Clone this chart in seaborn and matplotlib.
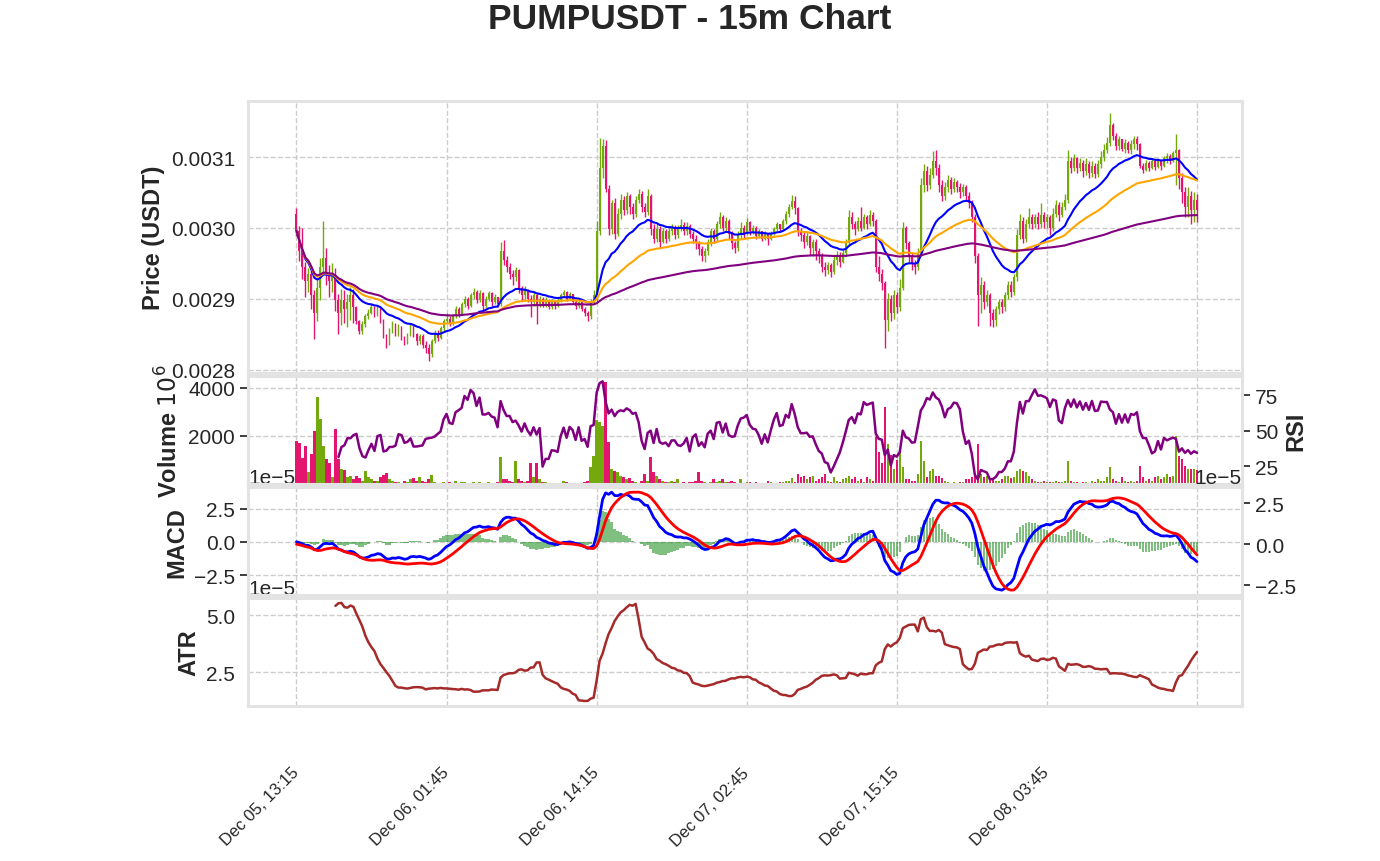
"""
PUMPUSDT 15m candlestick chart with volume/RSI, MACD and ATR panels
"""

import numpy as np
import pandas as pd
import matplotlib
matplotlib.use("Agg")
import matplotlib.pyplot as plt
import seaborn as sns

# ---- data (prices in 1e-6 USDT, volume in millions) ----
start_time = "2025-12-05 13:15"
first_open = 3020

close_u = [
    2996, 2968, 2945, 2925, 2935, 2905, 2880, 2915, 2945, 2958,
    2935, 2925, 2935, 2898, 2880, 2898, 2885, 2895, 2905, 2888,
    2868, 2855, 2865, 2875, 2880, 2888, 2878, 2885, 2870, 2848,
    2838, 2855, 2865, 2852, 2860, 2845, 2838, 2850, 2862, 2850,
    2840, 2848, 2835, 2830, 2822, 2840, 2852, 2845, 2858, 2868,
    2872, 2865, 2875, 2885, 2878, 2892, 2900, 2890, 2905, 2910,
    2898, 2908, 2890, 2900, 2908, 2895, 2902, 2892, 2968, 2955,
    2945, 2935, 2930, 2940, 2915, 2905, 2912, 2900, 2895, 2905,
    2890, 2900, 2892, 2898, 2888, 2896, 2890, 2898, 2905, 2910,
    2900, 2906, 2896, 2890, 2895, 2885, 2880, 2875, 2895, 2905,
    2995, 3085, 3115, 3055, 2998, 3035, 2992, 3020, 3040, 3025,
    3045, 3030, 3020, 3040, 3048, 3030, 3022, 3045, 2998, 2985,
    2998, 2980, 2995, 2985, 2995, 3000, 2990, 2998, 3004, 2995,
    3002, 2992, 2985, 2978, 2970, 2960, 2968, 2980, 2995, 2985,
    3005, 3015, 3000, 3010, 2992, 2978, 2972, 2990, 3000, 2992,
    3008, 2995, 3000, 2988, 2995, 2985, 2992, 2985, 2992, 2998,
    3005, 2998, 3010, 3020, 3030, 3038, 3028, 2995, 2990, 2980,
    2988, 2972, 2980, 2968, 2960, 2945, 2940, 2948, 2938, 2955,
    2962, 2952, 2965, 2978, 3015, 3005, 2998, 3010, 3000, 3015,
    3005, 3018, 3010, 2945, 2935, 2922, 2870, 2900, 2880, 2905,
    2888, 2915, 3000, 2978, 2960, 2950, 2945, 2965, 3060, 3080,
    3060, 3075, 3095, 3085, 3060, 3045, 3058, 3068, 3055, 3065,
    3058, 3050, 3058, 3045, 3035, 3015, 2960, 2905, 2920, 2895,
    2905, 2880, 2870, 2885, 2895, 2888, 2905, 2920, 2910, 2930,
    2990, 3010, 2985, 3005, 3015, 3005, 3015, 3005, 3018, 3008,
    3015, 3000, 3020, 3032, 3018, 3030, 3040, 3095, 3085, 3098,
    3085, 3092, 3080, 3090, 3078, 3088, 3076, 3090, 3100, 3110,
    3120, 3145, 3130, 3115, 3125, 3112, 3120, 3110, 3118, 3125,
    3118, 3088, 3082, 3092, 3085, 3095, 3086, 3094, 3088, 3098,
    3102, 3095, 3105, 3110, 3070, 3050, 3030, 3045, 3025, 3040,
    3025,
]

high_u = [
    3028, 3002, 3000, 2952, 2944, 2942, 2912, 2927, 2957, 3010,
    2972, 2947, 2950, 2944, 2906, 2914, 2912, 2906, 2917, 2914,
    2890, 2870, 2868, 2878, 2885, 2892, 2890, 2890, 2888, 2872,
    2850, 2858, 2868, 2866, 2864, 2862, 2848, 2852, 2865, 2864,
    2852, 2850, 2850, 2840, 2836, 2843, 2856, 2856, 2862, 2872,
    2880, 2876, 2878, 2890, 2888, 2896, 2904, 2903, 2908, 2915,
    2912, 2912, 2910, 2904, 2911, 2909, 2906, 2903, 2980, 2983,
    2960, 2950, 2940, 2945, 2942, 2918, 2918, 2914, 2905, 2910,
    2908, 2904, 2902, 2902, 2899, 2899, 2897, 2901, 2908, 2913,
    2911, 2909, 2907, 2898, 2898, 2896, 2888, 2882, 2900, 2912,
    3010, 3127, 3125, 3124, 3060, 3040, 3042, 3028, 3048, 3045,
    3050, 3048, 3035, 3045, 3055, 3052, 3035, 3055, 3048, 3005,
    3005, 3002, 3000, 2998, 3002, 3006, 3004, 3004, 3012, 3008,
    3008, 3005, 2996, 2990, 2982, 2975, 2972, 2985, 3000, 2998,
    3010, 3022, 3018, 3015, 3012, 2995, 2982, 2995, 3008, 3004,
    3014, 3010, 3004, 3002, 2998, 2996, 2995, 2993, 2995, 3001,
    3008, 3006, 3013, 3024, 3034, 3046, 3045, 3030, 3000, 2994,
    2994, 2990, 2985, 2984, 2972, 2964, 2952, 2952, 2950, 2960,
    2968, 2966, 2970, 2984, 3025, 3022, 3010, 3015, 3030, 3020,
    3018, 3025, 3022, 3012, 2960, 2942, 2925, 2908, 2905, 2912,
    2910, 2928, 3008, 3002, 2982, 2965, 2955, 2972, 3070, 3090,
    3088, 3085, 3108, 3110, 3090, 3068, 3065, 3075, 3072, 3070,
    3068, 3064, 3062, 3060, 3050, 3040, 3020, 2965, 2930, 2925,
    2912, 2908, 2885, 2890, 2900, 2900, 2910, 2925, 2925, 2935,
    2998, 3020, 3015, 3012, 3028, 3020, 3020, 3022, 3035, 3022,
    3020, 3018, 3028, 3040, 3036, 3036, 3048, 3110, 3100, 3104,
    3100, 3098, 3096, 3098, 3094, 3095, 3092, 3096, 3108, 3118,
    3128, 3162, 3148, 3134, 3130, 3126, 3126, 3122, 3124, 3130,
    3130, 3120, 3092, 3096, 3094, 3098, 3097, 3098, 3096, 3102,
    3106, 3104, 3108, 3132, 3112, 3078, 3058, 3058, 3052, 3050,
    3048,
]

low_u = [
    2988, 2953, 2928, 2903, 2910, 2886, 2843, 2868, 2898, 2936,
    2920, 2903, 2910, 2883, 2850, 2863, 2866, 2860, 2870, 2866,
    2864, 2850, 2850, 2860, 2872, 2878, 2874, 2875, 2866, 2845,
    2830, 2835, 2852, 2848, 2848, 2842, 2834, 2836, 2848, 2846,
    2835, 2836, 2830, 2824, 2812, 2818, 2838, 2840, 2843, 2855,
    2866, 2862, 2863, 2873, 2874, 2877, 2888, 2886, 2888, 2900,
    2894, 2895, 2884, 2887, 2897, 2890, 2892, 2888, 2890, 2948,
    2938, 2928, 2920, 2925, 2908, 2898, 2900, 2895, 2874, 2890,
    2864, 2888, 2888, 2889, 2885, 2886, 2886, 2888, 2896, 2903,
    2897, 2898, 2893, 2886, 2887, 2882, 2876, 2869, 2872, 2893,
    2895, 2990, 3070, 3050, 2990, 2992, 2985, 2988, 3012, 3018,
    3020, 3020, 3012, 3015, 3035, 3022, 3015, 3018, 2990, 2978,
    2980, 2972, 2978, 2978, 2982, 2990, 2985, 2986, 2995, 2990,
    2990, 2986, 2978, 2970, 2962, 2953, 2952, 2962, 2975, 2978,
    2982, 3000, 2995, 2995, 2985, 2970, 2965, 2968, 2985, 2985,
    2990, 2990, 2992, 2985, 2986, 2982, 2983, 2976, 2983, 2990,
    2996, 2994, 2996, 3006, 3016, 3026, 3020, 2988, 2982, 2972,
    2976, 2962, 2960, 2955, 2950, 2938, 2932, 2935, 2930, 2935,
    2948, 2945, 2950, 2960, 2975, 2998, 2990, 2995, 2995, 2998,
    2998, 3002, 3002, 2938, 2925, 2912, 2830, 2855, 2868, 2872,
    2880, 2882, 2912, 2970, 2952, 2940, 2935, 2940, 2960, 3050,
    3052, 3055, 3070, 3075, 3050, 3038, 3040, 3050, 3048, 3050,
    3050, 3042, 3045, 3038, 3028, 3008, 2950, 2862, 2880, 2885,
    2890, 2862, 2860, 2862, 2878, 2880, 2882, 2900, 2902, 2905,
    2925, 2985, 2978, 2980, 3000, 2998, 3000, 2998, 3000, 3000,
    3000, 2990, 2995, 3015, 3010, 3015, 3025, 3035, 3078, 3080,
    3078, 3080, 3072, 3075, 3070, 3072, 3070, 3072, 3085, 3095,
    3105, 3115, 3124, 3110, 3110, 3108, 3106, 3106, 3104, 3112,
    3110, 3084, 3078, 3080, 3080, 3083, 3082, 3084, 3082, 3086,
    3092, 3090, 3093, 3060, 3055, 3035, 3015, 3015, 3005, 3008,
    3008,
]

volume_m = [
    1800, 1700, 1100, 1600, 500, 1250, 2200, 3600, 2700, 1600,
    1050, 900, 300, 2300, 1050, 650, 600, 300, 350, 200,
    350, 250, 150, 550, 300, 200, 150, 150, 300, 400,
    450, 200, 150, 100, 80, 60, 150, 100, 200, 250,
    150, 300, 150, 100, 200, 380, 100, 60, 50, 80,
    60, 80, 50, 120, 60, 100, 90, 40, 60, 110,
    70, 90, 60, 50, 80, 40, 60, 100, 1110, 210,
    200, 150, 100, 970, 200, 120, 80, 150, 900, 280,
    900, 200, 100, 80, 60, 50, 70, 40, 60, 150,
    80, 50, 60, 40, 50, 70, 90, 120, 700, 1180,
    2640, 2570, 2400, 4250, 1740, 625, 550, 490, 350, 280,
    200, 250, 150, 100, 70, 150, 420, 150, 1110, 490,
    350, 200, 140, 100, 80, 150, 100, 200, 70, 100,
    60, 100, 80, 120, 490, 140, 80, 60, 100, 210,
    100, 150, 200, 100, 80, 150, 100, 70, 210, 60,
    80, 100, 60, 80, 50, 70, 60, 140, 80, 60,
    50, 80, 100, 140, 150, 270, 100, 420, 280, 350,
    200, 300, 350, 150, 200, 280, 420, 150, 100, 280,
    150, 100, 200, 250, 350, 200, 280, 150, 200, 100,
    280, 200, 150, 1950, 1320, 900, 3200, 1670, 1200, 625,
    1000, 1460, 700, 210, 200, 150, 140, 420, 1800, 970,
    280, 560, 625, 350, 350, 250, 150, 80, 60, 100,
    60, 80, 100, 200, 210, 280, 350, 1670, 420, 300,
    350, 210, 200, 140, 150, 210, 350, 350, 250, 280,
    560, 625, 560, 490, 350, 200, 140, 100, 80, 140,
    80, 80, 100, 120, 80, 100, 150, 970, 120, 80,
    100, 60, 80, 100, 60, 120, 80, 200, 150, 120,
    280, 700, 200, 150, 100, 280, 120, 100, 150, 80,
    120, 765, 280, 150, 200, 150, 280, 350, 200, 300,
    420, 300, 350, 2015, 1180, 1040, 765, 625, 625, 625,
    600,
]

UP_COLOR = "#74a90d"
DOWN_COLOR = "#e3156f"

# ---- build frame and indicators ----
df = pd.DataFrame({
    "close": np.array(close_u) * 1e-6,
    "high": np.array(high_u) * 1e-6,
    "low": np.array(low_u) * 1e-6,
    "volume": np.array(volume_m, dtype=float),
})
df["time"] = pd.date_range(start_time, periods=len(df), freq="15min")
df["bar"] = np.arange(len(df))
df["open"] = df["close"].shift(1).fillna(first_open * 1e-6)
df["high"] = df[["high", "open", "close"]].max(axis=1)
df["low"] = df[["low", "open", "close"]].min(axis=1)

df["ema20"] = df["close"].ewm(span=20).mean()
df["ema50"] = df["close"].ewm(span=50).mean()
df["ema200"] = df["close"].ewm(span=200).mean()

ema12 = df["close"].ewm(span=12).mean()
ema26 = df["close"].ewm(span=26).mean()
df["macd"] = ema12 - ema26
df["signal"] = df["macd"].ewm(span=9).mean()
df["hist"] = df["macd"] - df["signal"]

delta = df["close"].diff()
gain = delta.clip(lower=0).rolling(14).mean()
loss = (-delta.clip(upper=0)).rolling(14).mean()
df["rsi"] = 100 - 100 / (1 + gain / loss)

prev_close = df["close"].shift(1)
tr = pd.concat([df["high"] - df["low"],
                (df["high"] - prev_close).abs(),
                (df["low"] - prev_close).abs()], axis=1).max(axis=1)
df["atr"] = tr.rolling(14).mean()

colors = np.where(df["close"] >= df["open"], UP_COLOR, DOWN_COLOR)

# ---- style ----
sns.set_theme(style="whitegrid")
plt.rcParams["font.family"] = ["Liberation Sans", "DejaVu Sans"]
plt.rcParams["grid.linestyle"] = "--"
plt.rcParams["grid.color"] = "#cccccc"
plt.rcParams["grid.linewidth"] = 1.0
plt.rcParams["axes.edgecolor"] = "#e3e3e3"
plt.rcParams["axes.linewidth"] = 2.2
plt.rcParams["ytick.labelsize"] = 15
plt.rcParams["xtick.labelsize"] = 12

fig = plt.figure(figsize=(13.8, 8.62), dpi=100)
gs = fig.add_gridspec(4, 1, height_ratios=[2.53, 1, 1, 1], hspace=0.02,
                      left=0.18, right=0.9, top=0.882, bottom=0.18)
ax_price = fig.add_subplot(gs[0])
ax_vol = fig.add_subplot(gs[1], sharex=ax_price)
ax_macd = fig.add_subplot(gs[2], sharex=ax_price)
ax_atr = fig.add_subplot(gs[3], sharex=ax_price)

x = df["bar"].values
label_kw = dict(fontsize=17, fontweight="bold")

# Price candles + moving averages
ax_price.vlines(x, df["low"], df["high"], color=colors, linewidth=1.0)
body_low = np.minimum(df["open"], df["close"])
body_h = np.maximum((df["close"] - df["open"]).abs(), 1.5e-6)
ax_price.bar(x, body_h, bottom=body_low, width=0.65, color=colors, linewidth=0)
sns.lineplot(data=df, x="bar", y="ema20", ax=ax_price, color="blue", linewidth=1.5, errorbar=None)
sns.lineplot(data=df, x="bar", y="ema50", ax=ax_price, color="orange", linewidth=1.5, errorbar=None)
sns.lineplot(data=df, x="bar", y="ema200", ax=ax_price, color="purple", linewidth=1.5, errorbar=None)
ax_price.set_ylabel("Price (USDT)", **label_kw)

# Volume + RSI
ax_vol.bar(x, df["volume"], width=0.8, color=colors, linewidth=0)
ax_vol.set_yticks([2000, 4000])
ax_vol.set_ylabel("Volume $10^{6}$", **label_kw)
ax_rsi = ax_vol.twinx()
sns.lineplot(data=df, x="bar", y="rsi", ax=ax_rsi, color="purple", linewidth=1.8, errorbar=None)
ax_rsi.grid(False)
ax_rsi.set_ylabel("RSI", **label_kw)

# MACD
sns.lineplot(data=df, x="bar", y="macd", ax=ax_macd, color="blue", linewidth=2, errorbar=None)
ax_macd.bar(x, df["hist"], width=0.8, color="green", alpha=0.5, linewidth=0)
ax_macd.set_ylabel("MACD", **label_kw)
ax_sig = ax_macd.twinx()
sns.lineplot(data=df, x="bar", y="signal", ax=ax_sig, color="red", linewidth=2, errorbar=None)
ax_sig.grid(False)
ax_sig.set_ylabel("")

# ATR
sns.lineplot(data=df, x="bar", y="atr", ax=ax_atr, color="brown", linewidth=1.8, errorbar=None)
ax_atr.set_ylabel("ATR", **label_kw)

# x axis
ticks = list(range(0, len(df), 50))
tick_labels = [df["time"][i].strftime("%b %d, %H:%M") for i in ticks[:-1]] + [""]
ax_atr.set_xticks(ticks)
ax_atr.set_xticklabels(tick_labels, rotation=45, ha="right", va="center",
                       rotation_mode="anchor")
ax_atr.tick_params(axis="x", pad=40)
ax_price.set_xlim(-16, 315)
for ax in (ax_price, ax_vol, ax_macd):
    ax.tick_params(axis="x", labelbottom=False)
for ax in (ax_price, ax_vol, ax_macd, ax_atr):
    ax.set_xlabel("")

fig.suptitle("PUMPUSDT - 15m Chart", fontsize=25.5, fontweight="bold", y=0.997)

plt.savefig("out.png", dpi=100)
plt.close()
